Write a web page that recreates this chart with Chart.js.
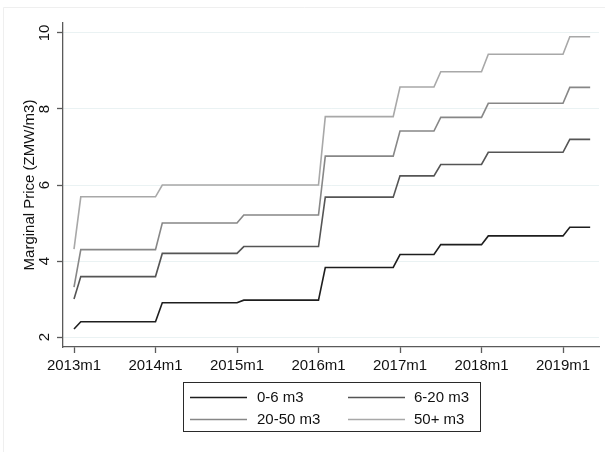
<!DOCTYPE html>
<html>
<head>
<meta charset="utf-8">
<style>
  html, body { margin: 0; padding: 0; background: #ffffff; }
  #wrap { width: 605px; height: 452px; position: relative; }
</style>
<script src="https://cdn.jsdelivr.net/npm/chart.js@4/dist/chart.umd.min.js"></script>
</head>
<body>
<div id="wrap"><canvas id="c" width="605" height="452"></canvas></div>
<script>
// Months since 2013m1 at which the tariff path changes (start and end of each ramp)
const months = [0, 1, 12, 13, 24, 25, 36, 37, 47, 48, 53, 54, 60, 61, 72, 73, 76];

// Marginal price per block (ZMW/m3) at those months
const block0to6   = [2.21, 2.40, 2.40, 2.90, 2.90, 2.97, 2.97, 3.83, 3.83, 4.17, 4.17, 4.43, 4.43, 4.66, 4.66, 4.89, 4.89];
const block6to20  = [3.00, 3.59, 3.59, 4.20, 4.20, 4.38, 4.38, 5.68, 5.68, 6.24, 6.24, 6.54, 6.54, 6.86, 6.86, 7.20, 7.20];
const block20to50 = [3.31, 4.30, 4.30, 5.00, 5.00, 5.21, 5.21, 6.76, 6.76, 7.42, 7.42, 7.78, 7.78, 8.15, 8.15, 8.57, 8.57];
const block50plus = [4.31, 5.69, 5.69, 6.00, 6.00, 6.00, 6.00, 7.80, 7.80, 8.58, 8.58, 8.98, 8.98, 9.44, 9.44, 9.90, 9.90];

const seriesNames = ['0-6 m3', '6-20 m3', '20-50 m3', '50+ m3'];
const seriesColors = ['#1e1e1e', '#555555', '#878787', '#a8a8a8'];

const xTickMonths = [0, 12, 24, 36, 48, 60, 72];
const xTickLabels = ['2013m1', '2014m1', '2015m1', '2016m1', '2017m1', '2018m1', '2019m1'];
const yTickValues = [2, 4, 6, 8, 10];

const FONT = 'Arial, "Liberation Sans", sans-serif';

function toPoints(values) {
  return values.map((v, i) => ({ x: months[i], y: v }));
}

const allSeries = [block0to6, block6to20, block20to50, block50plus];

const datasets = allSeries.map((vals, i) => ({
  label: seriesNames[i],
  data: toPoints(vals),
  borderColor: seriesColors[i],
  backgroundColor: seriesColors[i],
  borderWidth: 1.6,
  pointRadius: 0,
  tension: 0,
  fill: false
}));

// Faint outer frame of the graph region
const frame = {
  id: 'frame',
  beforeDraw(chart) {
    const ctx = chart.ctx;
    ctx.save();
    ctx.fillStyle = '#ffffff';
    ctx.fillRect(0, 0, chart.width, chart.height);
    ctx.strokeStyle = '#efefef';
    ctx.lineWidth = 1;
    ctx.beginPath();
    ctx.moveTo(3.5, chart.height);
    ctx.lineTo(3.5, 7.5);
    ctx.lineTo(chart.width, 7.5);
    ctx.stroke();
    ctx.restore();
  }
};

// Boxed two-column legend below the plot
const boxLegend = {
  id: 'boxLegend',
  afterDraw(chart) {
    const ctx = chart.ctx;
    const ds = chart.data.datasets;
    const box = { x: 183.5, y: 382.5, w: 297, h: 49 };
    ctx.save();
    ctx.strokeStyle = '#2a2a2a';
    ctx.lineWidth = 1;
    ctx.strokeRect(box.x, box.y, box.w, box.h);
    const colLine = [190, 348];
    const lineLen = 57;
    const colText = [257, 414];
    const rowY = [397, 419];
    ctx.font = '15px ' + FONT;
    ctx.textBaseline = 'middle';
    ctx.textAlign = 'left';
    ds.forEach((d, i) => {
      const col = i % 2, row = Math.floor(i / 2);
      ctx.strokeStyle = d.borderColor;
      ctx.lineWidth = d.borderWidth;
      ctx.beginPath();
      ctx.moveTo(colLine[col], rowY[row] + 0.5);
      ctx.lineTo(colLine[col] + lineLen, rowY[row] + 0.5);
      ctx.stroke();
      ctx.fillStyle = '#111111';
      ctx.fillText(d.label, colText[col], rowY[row] + 1);
    });
    ctx.restore();
  }
};

new Chart(document.getElementById('c'), {
  type: 'line',
  data: { datasets },
  options: {
    responsive: false,
    animation: false,
    devicePixelRatio: 1,
    layout: { padding: { left: 0, right: 6, top: 23, bottom: 75 } },
    plugins: {
      legend: { display: false },
      tooltip: { enabled: false }
    },
    scales: {
      x: {
        type: 'linear',
        min: -1.62,
        max: 77.3,
        afterBuildTicks(scale) {
          scale.ticks = xTickMonths.map(v => ({ value: v }));
        },
        afterFit(scale) { scale.height = 30; },
        border: { display: true, color: '#5a5a5a', width: 1.3 },
        grid: {
          drawOnChartArea: false,
          drawTicks: true,
          tickLength: 6,
          tickColor: '#5a5a5a',
          tickWidth: 1.3
        },
        ticks: {
          padding: 4,
          maxRotation: 0,
          minRotation: 0,
          color: '#111111',
          font: { family: FONT, size: 15 },
          callback(value) {
            const idx = xTickMonths.indexOf(value);
            return idx >= 0 ? xTickLabels[idx] : '';
          }
        }
      },
      y: {
        type: 'linear',
        min: 1.737,
        max: 10.263,
        afterBuildTicks(scale) {
          scale.ticks = yTickValues.map(v => ({ value: v }));
        },
        afterFit(scale) { scale.width = 63; },
        border: { display: true, color: '#5a5a5a', width: 1.3 },
        grid: {
          drawOnChartArea: true,
          color: '#eaf2f3',
          lineWidth: 1,
          drawTicks: true,
          tickLength: 6,
          tickColor: '#5a5a5a',
          tickWidth: 1.3
        },
        ticks: {
          padding: 4,
          minRotation: 90,
          maxRotation: 90,
          crossAlign: 'center',
          color: '#111111',
          font: { family: FONT, size: 15 },
          callback(value) { return String(value); }
        },
        title: {
          display: true,
          text: 'Marginal Price (ZMW/m3)',
          color: '#111111',
          font: { family: FONT, size: 15 },
          padding: { top: 21, bottom: 0 }
        }
      }
    }
  },
  plugins: [frame, boxLegend]
});
</script>
</body>
</html>
